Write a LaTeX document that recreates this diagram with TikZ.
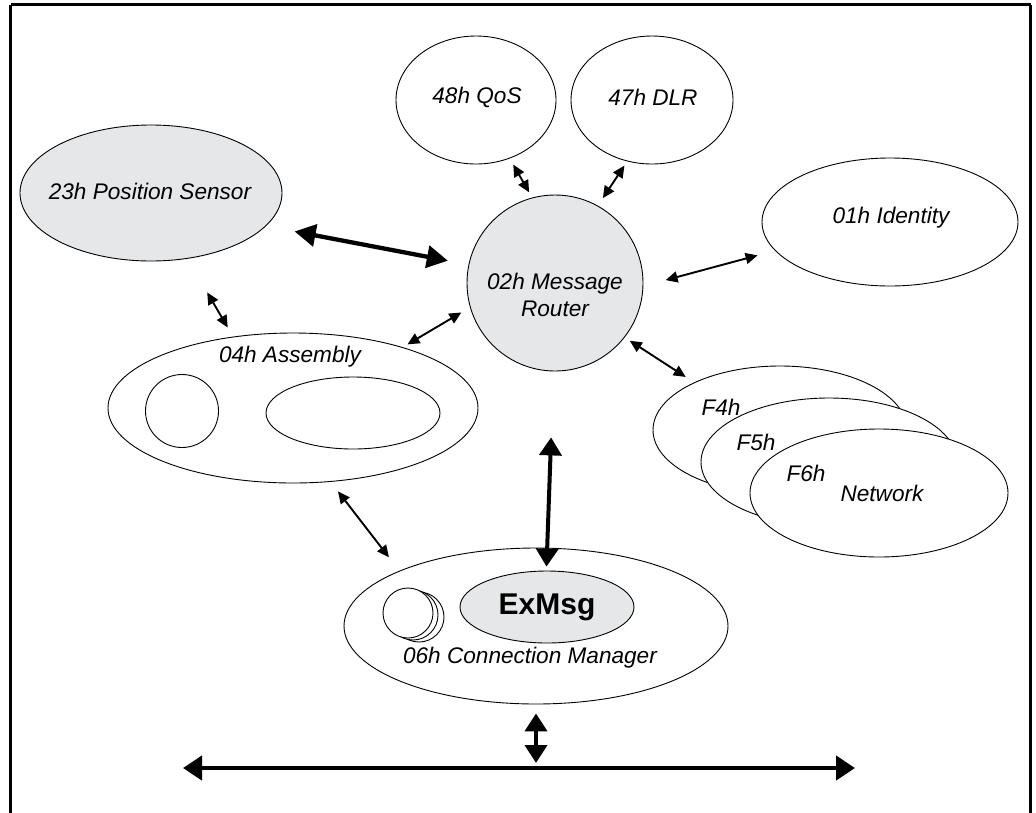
\documentclass[tikz,border=0pt]{standalone}
\usepackage{fontspec}
\setmainfont{Liberation Sans}
\usetikzlibrary{shapes.geometric,arrows.meta,calc}
\definecolor{objgray}{HTML}{E6E7E8}
\begin{document}
\begin{tikzpicture}[x=1pt,y=-1pt,
  obj/.style={draw,ellipse,line width=0.9pt,inner sep=0pt,fill=white},
  lbl/.style={font=\fontsize{22.6}{27.5}\selectfont\itshape,inner sep=0pt,align=center},
  thinarr/.style={line width=1.9pt,{Triangle[length=12pt,width=11pt]}-{Triangle[length=12pt,width=11pt]}},
  thickarr/.style={line width=4.3pt,{Triangle[length=21pt,width=22pt]}-{Triangle[length=21pt,width=22pt]}},
  busarr/.style={line width=4.3pt,{Triangle[length=19pt,width=24pt]}-{Triangle[length=19pt,width=24pt]}},
]
\useasboundingbox (0,0) rectangle (1036,812);
% outer frame, open at the bottom
\draw[line width=3pt] (10.7,4.7) -- (1030.7,4.7) (10.7,4.7) -- (10.7,830) (1030.7,4.7) -- (1030.7,830);

% objects
\node[obj,minimum width=160pt,minimum height=128pt] (qos) at (476,100) {};
\node[lbl] (qostxt) at (477,97) {48h QoS};
\node[obj,minimum width=162pt,minimum height=128pt] (dlr) at (652,100) {};
\node[lbl] (dlrtxt) at (653,97) {47h DLR};
\node[obj,fill=objgray,minimum width=262pt,minimum height=136pt] (ps) at (151,193) {};
\node[lbl] (pstxt) at (150,191) {23h Position Sensor};
\node[draw,circle,line width=0.9pt,fill=objgray,minimum size=176pt,inner sep=0pt] (router) at (555,283) {};
\node[lbl] (routertxt) at (555,295) {02h Message\\Router};
\node[obj,minimum width=256pt,minimum height=128pt] (identity) at (890,222) {};
\node[lbl] (identitytxt) at (891,218) {01h Identity};

% assembly with its members
\node[obj,minimum width=370pt,minimum height=150pt] (asm) at (293,408) {};
\node[lbl] (asmtxt) at (290,357) {04h Assembly};
\node[draw,circle,line width=0.9pt,minimum size=73pt,inner sep=0pt] (asmin) at (182,411) {};
\node[obj,minimum width=174pt,minimum height=72pt] (asmout) at (353,413) {};

% network objects, stacked
\node[obj,minimum width=254pt,minimum height=128pt] (f4) at (780,430) {};
\node[obj,minimum width=256pt,minimum height=128pt] (f5) at (829,462) {};
\node[obj,minimum width=258pt,minimum height=128pt] (f6) at (879,493) {};
\node[lbl] (f4txt) at (721,407) {F4h};
\node[lbl] (f5txt) at (756,442) {F5h};
\node[lbl] (f6txt) at (806,473) {F6h};
\node[lbl] (nettxt) at (882,493) {Network};

% connection manager
\node[obj,minimum width=384pt,minimum height=156pt] (cm) at (536,626) {};
\node[draw,circle,line width=0.9pt,fill=white,minimum size=50pt,inner sep=0pt] (conn3) at (419,617) {};
\node[draw,circle,line width=0.9pt,fill=white,minimum size=50pt,inner sep=0pt] (conn2) at (413,615) {};
\node[draw,circle,line width=0.9pt,fill=white,minimum size=50pt,inner sep=0pt] (conn1) at (408,613) {};
\node[obj,fill=objgray,minimum width=174pt,minimum height=72pt,
      font=\fontsize{30}{34}\selectfont\bfseries] (exmsg) at (547,607) {ExMsg};
\node[lbl] (cmtxt) at (530,658) {06h Connection Manager};

% network bus
\coordinate (busL) at (183,768);
\coordinate (busR) at (855,768);

% connectors
\draw[thinarr,shorten <=7pt,shorten >=6pt] (qos.-60) -- (router.105);
\draw[thinarr,shorten <=5pt,shorten >=9pt] (dlr.-112) -- (router.61);
\draw[thickarr,shorten <=29pt,shorten >=21pt] (ps.-16) -- (router.168);
\draw[thinarr,shorten <=18pt,shorten >=23pt] (identity.-166.5) -- (router.-2.6);
\draw[thinarr,shorten <=6pt,shorten >=10pt] (router.-38) -- (f4.151.3);
\draw[thinarr,shorten <=5.5pt,shorten >=10pt] (asm.29.7) -- (router.-164.5);
\draw[thinarr,shorten <=39pt,shorten >=10.6pt] (ps.-61.4) -- (asm.130.4);
\draw[thinarr,shorten <=12pt,shorten >=17pt] (asm.-63.4) -- (cm.158.4);
\draw[thickarr,line width=4pt,{Triangle[length=18pt,width=22pt]}-{Triangle[length=18pt,width=22pt]},
      shorten <=66pt,shorten >=4pt] (router.-91) -- (exmsg.91);
\draw[busarr,line width=4pt,{Triangle[length=18pt,width=22pt]}-{Triangle[length=18pt,width=22pt]},
      shorten <=9pt,shorten >=5pt] (cm.south) -- (cm.south |- busL);
\draw[busarr] (busL) -- (busR);
\end{tikzpicture}
\end{document}
